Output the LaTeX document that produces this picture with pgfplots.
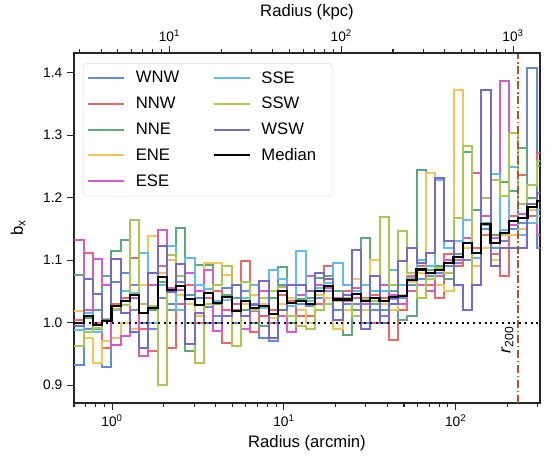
\documentclass[border=0pt]{standalone}
\usepackage{pgfplots}
\pgfplotsset{compat=1.18}
\usepackage{pgfplotstable}
\usepackage{fontspec}
\setmainfont{Liberation Sans}

\definecolor{cWNW}{RGB}{98,140,218}
\definecolor{cNNW}{RGB}{236,104,104}
\definecolor{cNNE}{RGB}{92,170,120}
\definecolor{cENE}{RGB}{242,198,84}
\definecolor{cESE}{RGB}{216,90,198}
\definecolor{cSSE}{RGB}{94,190,230}
\definecolor{cSSW}{RGB}{168,200,78}
\definecolor{cWSW}{RGB}{118,106,200}
\definecolor{rtwo}{RGB}{168,88,40}

\pgfplotstableread{
x WNW NNW NNE ENE ESE SSE SSW WSW Med
0.6040 0.932 1.005 1.076 1.018 1.133 0.988 0.963 0.995 1.000
0.6835 0.990 1.111 1.008 0.975 1.020 1.015 0.985 1.070 1.010
0.7736 1.020 1.000 0.990 0.935 1.102 0.985 0.992 1.046 0.996
0.8757 0.929 0.960 1.075 0.970 1.060 1.002 1.006 1.005 1.003
0.9913 1.065 1.030 1.115 0.975 0.965 1.020 1.022 1.102 1.026
1.1222 1.080 1.040 1.133 1.000 0.978 1.050 1.028 1.015 1.034
1.2700 1.060 1.103 1.020 0.990 1.040 1.048 1.164 0.985 1.044
1.4375 1.000 0.990 1.030 1.060 0.947 1.111 1.030 0.960 1.015
1.6270 0.990 0.955 1.020 1.139 1.060 1.000 1.026 1.080 1.023
1.8416 1.040 1.090 1.065 1.080 1.148 1.060 0.900 1.123 1.073
2.0844 1.030 0.959 1.020 1.100 1.055 1.122 1.108 1.049 1.052
2.3596 1.065 1.030 1.151 1.045 1.053 1.020 1.075 1.094 1.059
2.6708 1.045 1.060 0.955 1.030 1.080 1.103 1.000 0.966 1.038
3.0234 1.040 1.000 1.092 1.010 1.050 1.060 0.935 1.016 1.028
3.4220 1.025 1.040 1.093 1.096 1.084 1.054 1.030 1.000 1.047
3.8737 1.010 1.050 1.030 1.096 0.987 1.034 1.060 1.000 1.032
4.3853 1.055 0.967 1.045 1.077 1.020 1.037 1.090 1.010 1.041
4.9637 1.000 1.020 1.040 0.963 1.030 1.018 0.963 1.060 1.019
5.6184 1.050 1.099 1.020 1.030 0.990 1.040 1.065 1.010 1.035
6.3592 1.030 0.985 1.000 1.045 1.018 1.060 1.020 1.028 1.024
7.1977 0.975 1.010 0.995 1.030 1.050 1.024 1.040 1.066 1.027
8.1470 0.970 1.020 1.040 1.008 1.000 1.085 1.050 0.975 1.014
9.2216 1.060 1.045 1.089 1.030 1.010 1.070 1.057 1.020 1.051
10.437 1.035 1.035 1.000 1.040 0.985 1.027 1.010 1.060 1.031
11.813 1.030 1.010 1.038 1.020 1.045 1.114 0.995 1.060 1.034
13.376 1.026 1.010 1.040 1.000 1.074 1.034 0.990 1.050 1.030
15.140 1.040 1.030 1.071 1.045 1.060 1.055 1.020 1.080 1.050
17.137 1.050 1.090 1.075 1.040 1.055 1.063 1.030 1.070 1.059
19.397 1.020 1.040 1.050 0.990 1.040 1.096 1.034 1.004 1.037
21.955 1.030 1.050 0.980 1.020 1.034 1.060 1.040 1.045 1.037
24.850 1.030 1.055 1.020 1.070 1.040 1.050 1.010 1.116 1.046
28.127 1.000 1.040 1.136 1.020 1.030 1.060 1.038 0.990 1.034
31.836 1.020 1.045 1.030 1.100 1.000 1.050 1.035 1.074 1.040
36.034 1.010 1.040 1.020 1.030 1.060 1.050 1.169 1.000 1.035
40.787 1.038 0.973 1.050 1.020 1.044 1.084 1.060 1.030 1.041
46.173 1.040 1.020 1.005 1.044 1.030 1.060 1.147 1.099 1.042
52.263 1.060 1.075 1.010 1.065 1.050 1.071 1.080 1.120 1.068
59.156 1.070 1.090 1.245 1.080 1.060 1.100 1.040 1.095 1.085
66.957 1.075 1.060 1.085 1.240 1.050 1.090 1.070 1.111 1.080
75.786 1.080 1.040 1.090 1.060 1.075 1.228 1.088 1.231 1.084
85.781 1.090 1.110 1.070 1.050 1.100 1.120 1.080 1.130 1.095
97.095 1.095 1.090 1.110 1.373 1.100 1.130 1.167 1.060 1.105
109.90 1.100 1.120 1.273 1.120 1.136 1.165 1.283 1.020 1.128
124.39 1.120 1.120 1.180 1.090 1.240 1.104 1.060 1.060 1.112
140.80 1.150 1.140 1.160 1.120 1.170 1.156 1.200 1.372 1.158
159.43 1.120 1.110 1.140 1.100 1.135 1.238 1.228 1.090 1.128
180.45 1.130 1.075 1.225 1.140 1.386 1.148 1.203 1.120 1.144
204.25 1.150 1.170 1.210 1.140 1.156 1.249 1.303 1.120 1.163
231.18 1.160 1.236 1.279 1.150 1.174 1.140 1.190 1.120 1.167
261.67 1.407 1.170 1.200 1.180 1.160 1.160 1.220 1.190 1.185
296.17 1.120 1.272 1.250 1.170 1.140 1.180 1.258 1.208 1.194
335.20 1.120 1.272 1.250 1.170 1.140 1.180 1.258 1.208 1.194
}\data

\begin{document}
\begin{tikzpicture}
\begin{axis}[
  name=main,
  scale only axis, width=349.5pt, height=262.5pt,
  xmode=log, xmin=0.6, xmax=309.5, ymin=0.8715, ymax=1.4315,
  xtick={1,10,100},
  xticklabels={10\textsuperscript{0},10\textsuperscript{1},10\textsuperscript{2}},
  minor xtick={0.6,0.7,0.8,0.9,2,3,4,5,6,7,8,9,20,30,40,50,60,70,80,90,200,300},
  ytick={0.9,1.0,1.1,1.2,1.3,1.4},
  yticklabels={0.9,1.0,1.1,1.2,1.3,1.4},
  xtick pos=left, ytick pos=left,
  tick align=outside,
  major tick length=5.25pt, minor tick length=3pt,
  tick style={black!85, line width=0.8pt},
  axis line style={black!85, line width=0.8pt},
  tick label style={font=\fontsize{10.3}{12}\selectfont},
  label style={font=\fontsize{12.5}{15}\selectfont},
  xlabel={Radius (arcmin)}, ylabel={b\textsubscript{x}},
  xlabel style={at={(axis description cs:0.5,-0.114)}, anchor=center},
  ylabel style={at={(axis description cs:-0.12,0.5)}, anchor=center},
  legend columns=2,
  legend cell align=left,
  legend image code/.code={\draw[#1] (0pt,0pt) -- (27pt,0pt);},
  legend style={at={(0.019,0.971)}, anchor=north west, draw=black!15,
    rounded corners=2.5pt, fill=white, font=\fontsize{12.5}{15}\selectfont,
    inner xsep=3pt, inner ysep=4pt, row sep=5pt,
    /tikz/every odd column/.append style={column sep=6pt},
    /tikz/every even column/.append style={column sep=23pt}},
]
\addlegendimage{cWNW, line width=1.5pt}\addlegendentry{WNW}
\addlegendimage{cSSE, line width=1.5pt}\addlegendentry{SSE}
\addlegendimage{cNNW, line width=1.5pt}\addlegendentry{NNW}
\addlegendimage{cSSW, line width=1.5pt}\addlegendentry{SSW}
\addlegendimage{cNNE, line width=1.5pt}\addlegendentry{NNE}
\addlegendimage{cWSW, line width=1.5pt}\addlegendentry{WSW}
\addlegendimage{cENE, line width=1.5pt}\addlegendentry{ENE}
\addlegendimage{black, line width=1.6pt}\addlegendentry{Median\hspace*{7pt}}
\addlegendimage{cESE, line width=1.5pt}\addlegendentry{ESE}

\addplot[const plot mark left, cWNW, line width=1.5pt, forget plot] table[x=x, y=WNW]{\data};
\addplot[const plot mark left, cNNW, line width=1.5pt, forget plot] table[x=x, y=NNW]{\data};
\addplot[const plot mark left, cNNE, line width=1.5pt, forget plot] table[x=x, y=NNE]{\data};
\addplot[const plot mark left, cENE, line width=1.5pt, forget plot] table[x=x, y=ENE]{\data};
\addplot[const plot mark left, cESE, line width=1.5pt, forget plot] table[x=x, y=ESE]{\data};
\addplot[const plot mark left, cSSE, line width=1.5pt, forget plot] table[x=x, y=SSE]{\data};
\addplot[const plot mark left, cSSW, line width=1.5pt, forget plot] table[x=x, y=SSW]{\data};
\addplot[const plot mark left, cWSW, line width=1.5pt, forget plot] table[x=x, y=WSW]{\data};
\addplot[black, line width=1.5pt, dash pattern=on 1.5pt off 2.8pt, forget plot] coordinates {(0.5,1) (400,1)};
\addplot[rtwo, line width=1.2pt, dash pattern=on 6pt off 2pt on 1.2pt off 2pt, forget plot] coordinates {(231,0.8) (231,1.5)};
\addplot[const plot mark left, black, line width=1.6pt, forget plot] table[x=x, y=Med]{\data};
\node[rotate=90, anchor=south, font=\fontsize{13}{15}\selectfont, inner sep=1pt] at (axis cs:222,0.972) {\textit{r}\textsubscript{200}};
\end{axis}
\begin{axis}[
  scale only axis, width=349.5pt, height=262.5pt,
  at={(main.south west)}, anchor=south west,
  xmode=log, xmin=2.782, xmax=1434.8, ymin=0, ymax=1,
  axis x line*=top, axis y line=none,
  xtick={10,100,1000},
  xticklabels={10\textsuperscript{1},10\textsuperscript{2},10\textsuperscript{3}},
  minor xtick={3,4,5,6,7,8,9,20,30,40,50,60,70,80,90,200,300,400,500,600,700,800,900},
  tick align=outside,
  major tick length=5.25pt, minor tick length=3pt,
  tick style={black!85, line width=0.8pt},
  axis line style={black!85, line width=0.8pt},
  tick label style={font=\fontsize{10.3}{12}\selectfont},
  label style={font=\fontsize{12.5}{15}\selectfont},
  xlabel={Radius (kpc)},
  xlabel style={at={(axis description cs:0.5,1.117)}, anchor=center},
]
\addplot[draw=none] coordinates {(10,0.5) (100,0.5)};
\end{axis}
\pgfresetboundingbox
\useasboundingbox ([xshift=-55.5pt,yshift=-45pt]main.south west) rectangle ([xshift=10.5pt,yshift=39.75pt]main.north east);
\end{tikzpicture}
\end{document}
